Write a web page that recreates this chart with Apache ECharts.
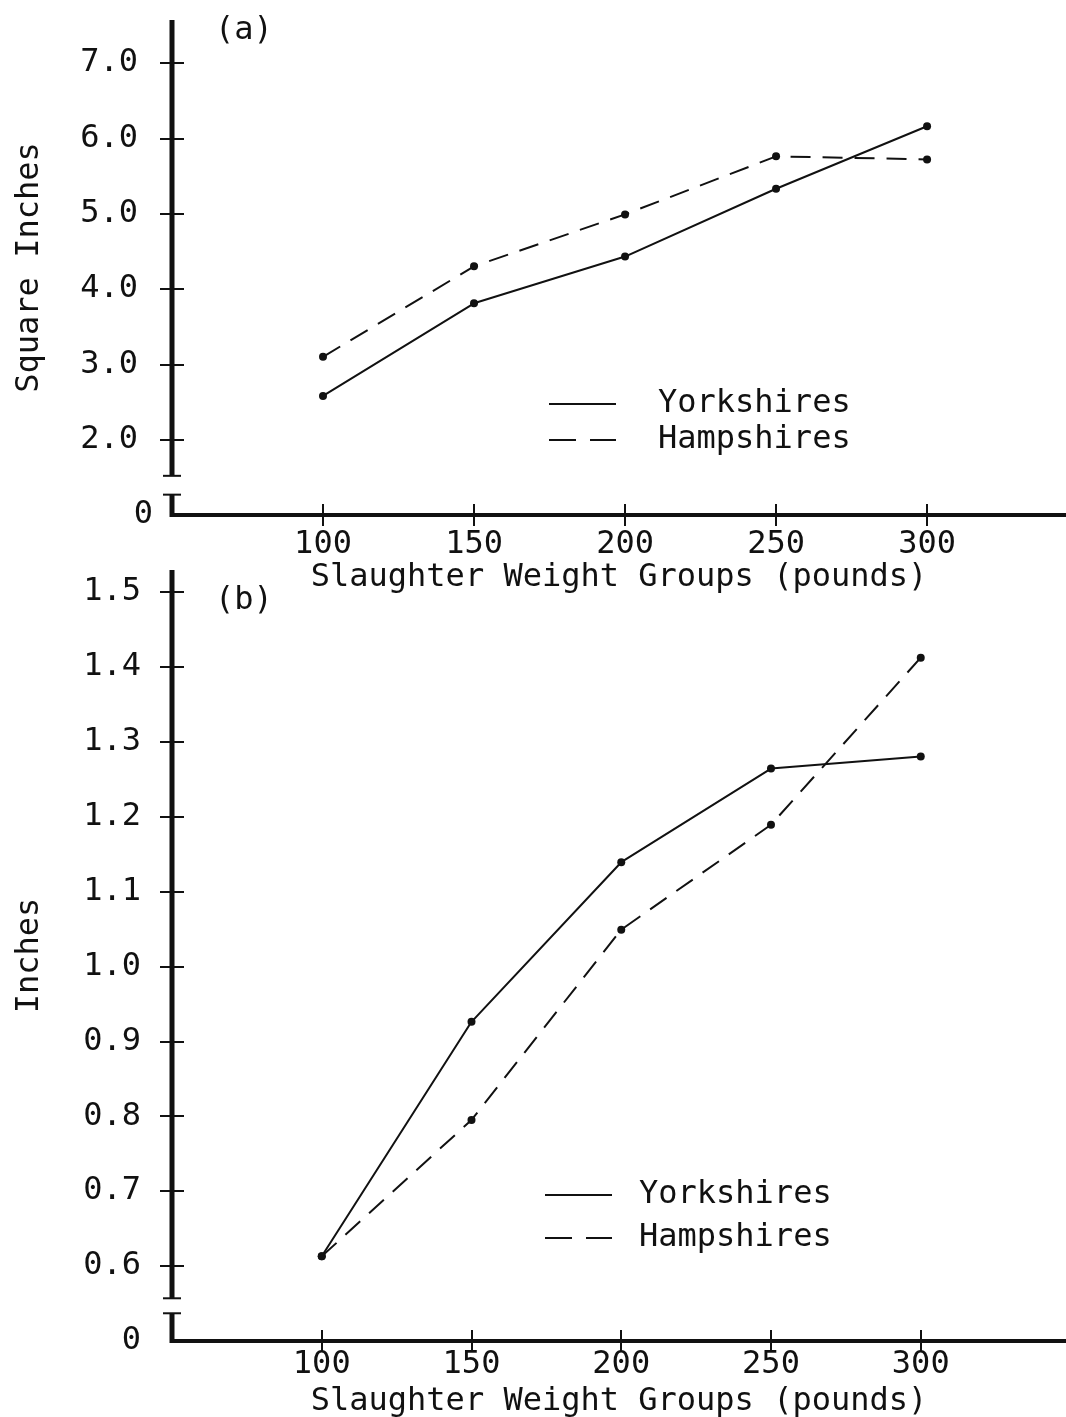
<!DOCTYPE html>
<html>
<head>
<meta charset="utf-8">
<script src="https://cdn.jsdelivr.net/npm/echarts@6/dist/echarts.min.js"></script>
<style>
html, body { margin: 0; padding: 0; background: #fff; }
#main { width: 1066px; height: 1417px; }
</style>
</head>
<body>
<div id="main"></div>
<script>
var weights = [100, 150, 200, 250, 300];
// (a) square inches
var areaYork = [2.58, 3.81, 4.43, 5.33, 6.16];
var areaHamp = [3.10, 4.30, 4.99, 5.76, 5.72];
var areaTicks = [2, 3, 4, 5, 6, 7];
// (b) inches
var depthYork = [0.613, 0.926, 1.139, 1.264, 1.280];
var depthHamp = [0.613, 0.795, 1.049, 1.189, 1.412];
var depthTicks = [0.6, 0.7, 0.8, 0.9, 1.0, 1.1, 1.2, 1.3, 1.4, 1.5];
// the "0" sits one step under the lowest tick, past a break in the axis
var areaZero = 1, depthZero = 0.5;
var areaBreak = [1.27, 1.52], depthBreak = [0.537, 0.557];
var areaMax = 7.57, depthMax = 1.529;

var ink = '#111';
var font = '"DejaVu Sans Mono", "Liberation Mono", monospace';
var chart = echarts.init(document.getElementById('main'));

function pairs(xs, ys) {
  return xs.map(function (x, i) { return [x, ys[i]]; });
}

function xAxes(grid, max, labelMargin, nameGap) {
  return [{
    type: 'value', gridIndex: grid, position: 'bottom', min: 50, max: max, interval: 50,
    axisLine: { show: true, onZero: false, lineStyle: { color: ink, width: 4 } },
    axisTick: { show: true, customValues: weights, length: 11, lineStyle: { color: ink, width: 2 } },
    axisLabel: { customValues: weights, margin: labelMargin, color: ink, fontFamily: font, fontSize: 32 },
    splitLine: { show: false },
    name: 'Slaughter Weight Groups (pounds)', nameLocation: 'middle', nameGap: nameGap,
    nameTextStyle: { color: ink, fontFamily: font, fontSize: 32 }
  }, {
    type: 'value', gridIndex: grid, position: 'bottom', min: 50, max: max, interval: 50,
    axisLine: { show: false, onZero: false },
    axisTick: { show: true, inside: true, customValues: weights, length: 11, lineStyle: { color: ink, width: 2 } },
    axisLabel: { show: false },
    splitLine: { show: false }
  }];
}

function yAxes(grid, min, max, ticks, name, nameGap, labelFmt, labelMargin) {
  return [{
    type: 'value', gridIndex: grid, position: 'left', min: min, max: max,
    axisLine: { show: false },
    axisTick: { show: true, customValues: ticks, length: 12, lineStyle: { color: ink, width: 2 } },
    axisLabel: {
      customValues: [min].concat(ticks), margin: labelMargin, formatter: labelFmt,
      color: ink, fontFamily: font, fontSize: 32,
      rich: { n: { fontFamily: font, fontSize: 32, color: ink, padding: [0, 15, 0, 0] },
              z: { fontFamily: font, fontSize: 32, color: ink } }
    },
    splitLine: { show: false },
    name: name, nameLocation: 'middle', nameGap: nameGap,
    nameTextStyle: { color: ink, fontFamily: font, fontSize: 32 }
  }, {
    type: 'value', gridIndex: grid, position: 'left', min: min, max: max,
    axisLine: { show: false },
    axisTick: { show: true, inside: true, customValues: ticks, length: 12, lineStyle: { color: ink, width: 2 } },
    axisLabel: { show: false },
    splitLine: { show: false }
  }];
}

function lineSeries(name, axis, data, dashed) {
  return {
    type: 'line', name: name, xAxisIndex: axis, yAxisIndex: axis, data: data,
    symbol: 'circle', symbolSize: 8, itemStyle: { color: ink },
    lineStyle: { color: ink, width: 2, type: dashed ? [20, 12] : 'solid' },
    animation: false
  };
}

function legend(left, top, gap, textPad) {
  return {
    orient: 'vertical', left: left, top: top, itemWidth: 67, itemHeight: 14, itemGap: gap,
    data: [
      { name: 'Yorkshires' },
      { name: 'Hampshires', lineStyle: { type: [27, 14] } }
    ],
    itemStyle: { opacity: 0 },
    textStyle: { color: ink, fontFamily: font, fontSize: 32, padding: [0, 0, 0, textPad] }
  };
}

var option = {
  backgroundColor: '#fff',
  animation: false,
  title: [
    { text: '(a)', left: 210, top: 10, textStyle: { color: ink, fontFamily: font, fontSize: 32, fontWeight: 'normal' } },
    { text: '(b)', left: 210, top: 580, textStyle: { color: ink, fontFamily: font, fontSize: 32, fontWeight: 'normal' } }
  ],
  legend: [legend(543, 383, 4, 37), legend(539, 1174, 11, 22)],
  grid: [
    { left: 172, right: 0, top: 20, height: 495, outerBoundsMode: 'none' },
    { left: 172, right: 0, top: 570, height: 771, outerBoundsMode: 'none' }
  ],
  xAxis: xAxes(0, 346, 14, 46).concat(xAxes(1, 348.5, 8, 40)),
  yAxis: yAxes(0, areaZero, areaMax, areaTicks, 'Square Inches', 126, function (v) {
    return v === areaZero ? '{z|0}' : '{n|' + v.toFixed(1) + '}';
  }, 19).concat(yAxes(1, depthZero, depthMax, depthTicks, 'Inches', 126, function (v) {
    return v === depthZero ? '0' : v.toFixed(1);
  }, 31)),
  series: [
    lineSeries('Yorkshires', 0, pairs(weights, areaYork), false),
    lineSeries('Hampshires', 0, pairs(weights, areaHamp), true),
    lineSeries('Yorkshires', 2, pairs(weights, depthYork), false),
    lineSeries('Hampshires', 2, pairs(weights, depthHamp), true)
  ]
};
chart.setOption(option);

// vertical axis lines with the break drawn as two capped segments
function brokenAxis(axis, zero, brk, max) {
  var at = function (v) { return chart.convertToPixel({ xAxisIndex: axis, yAxisIndex: axis }, [50, v]); };
  var pZero = at(zero), pLow = at(brk[0]), pHigh = at(brk[1]), pTop = at(max);
  var x = pZero[0];
  var thick = { stroke: ink, lineWidth: 5 };
  var thin = { stroke: ink, lineWidth: 2 };
  return [
    { type: 'line', shape: { x1: x, y1: pZero[1] + 2, x2: x, y2: pLow[1] }, style: thick },
    { type: 'line', shape: { x1: x - 9, y1: pLow[1], x2: x + 9, y2: pLow[1] }, style: thin },
    { type: 'line', shape: { x1: x, y1: pHigh[1], x2: x, y2: pTop[1] }, style: thick },
    { type: 'line', shape: { x1: x - 9, y1: pHigh[1], x2: x + 9, y2: pHigh[1] }, style: thin }
  ];
}
chart.setOption({
  graphic: brokenAxis(0, areaZero, areaBreak, areaMax).concat(brokenAxis(2, depthZero, depthBreak, depthMax))
});
</script>
</body>
</html>
